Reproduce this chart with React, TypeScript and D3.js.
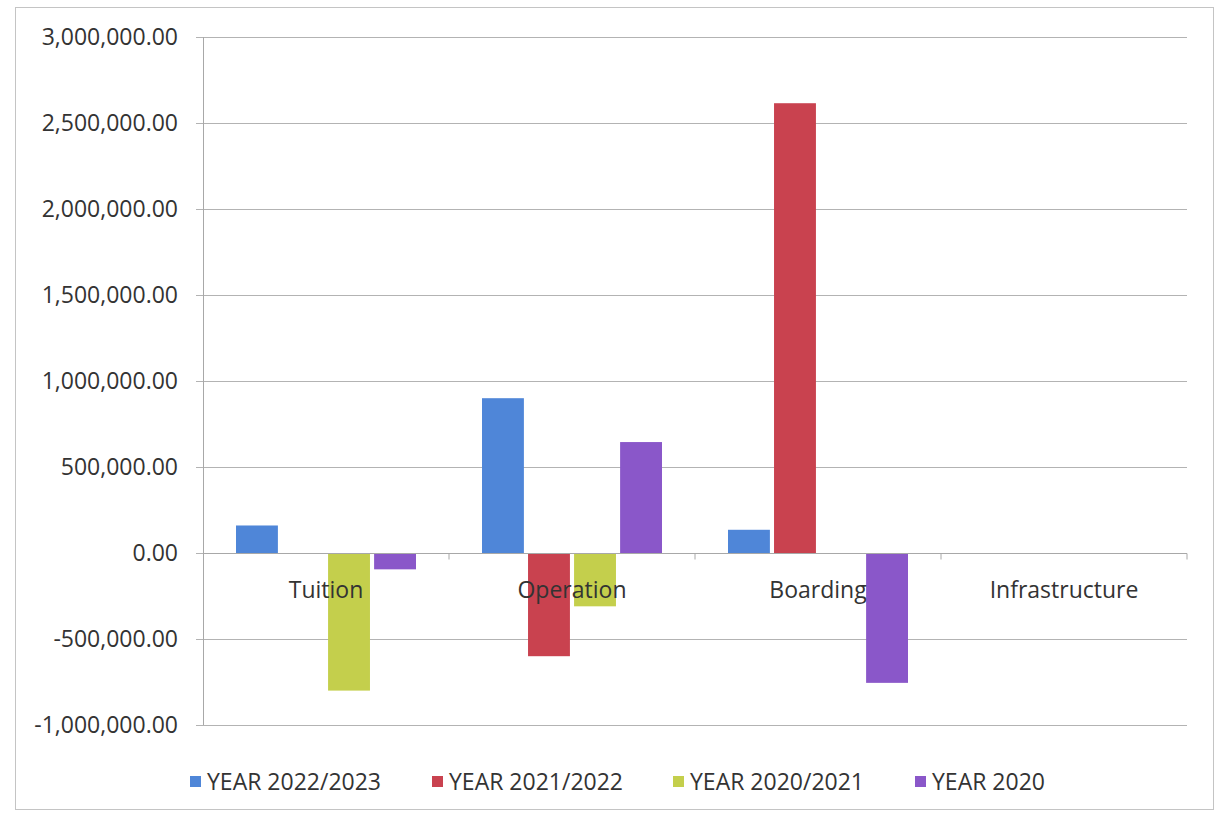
import React, { useEffect, useRef } from 'react';
import * as d3 from 'd3';

const categories = ['Tuition', 'Operation', 'Boarding', 'Infrastructure'];
const seriesNames = ['YEAR 2022/2023', 'YEAR 2021/2022', 'YEAR 2020/2021', 'YEAR 2020'];
const year2022_2023 = [160000, 900000, 135000, 0];
const year2021_2022 = [0, -600000, 2615000, 0];
const year2020_2021 = [-800000, -310000, 0, 0];
const year2020 = [-95000, 645000, -755000, 0];
const yTicks = [-1000000, -500000, 0, 500000, 1000000, 1500000, 2000000, 2500000, 3000000];

const colors = ['#4f86d8', '#c9424f', '#c4cf4c', '#8a57c9'];

const App = () => {
  const divRef = useRef<HTMLDivElement>(null);

  useEffect(() => {
    drawChart(divRef);
  }, [divRef]);

  return <div ref={divRef} style={{ position: 'absolute', left: 0, top: 0 }}></div>;
};

function drawChart(divRef: React.RefObject<HTMLDivElement>) {
  const W = 1223,
    H = 814;
  const margin = { top: 37, left: 203, right: 36, bottom: 89 };
  const width = W - margin.left - margin.right,
    height = H - margin.top - margin.bottom;
  const font = "'Open Sans', 'Noto Sans', sans-serif";
  const textColor = '#333333';
  const fontSize = '23px';

  d3.select(divRef.current).select('svg').remove();

  const root = d3
    .select(divRef.current)
    .append('svg')
    .attr('width', W)
    .attr('height', H)
    .style('display', 'block')
    .style('background', '#ffffff');

  // outer chart frame
  root
    .append('rect')
    .attr('x', 15.5)
    .attr('y', 7.5)
    .attr('width', 1198)
    .attr('height', 802)
    .attr('fill', 'none')
    .attr('stroke', '#c4c4c4');

  const svg = root.append('g').attr('transform', 'translate(' + margin.left + ',' + margin.top + ')');

  const values = [year2022_2023, year2021_2022, year2020_2021, year2020];

  const x0 = d3.scaleBand().domain(categories).range([0, width]).padding(0);
  const groupW = 180;
  const x1 = d3
    .scaleBand()
    .domain(seriesNames)
    .range([(x0.bandwidth() - groupW) / 2, (x0.bandwidth() + groupW) / 2])
    .paddingInner(0.09);
  const y = d3.scaleLinear().domain([-1000000, 3000000]).range([height, 0]);

  // gridlines
  svg
    .append('g')
    .selectAll('line')
    .data(yTicks)
    .join('line')
    .attr('x1', -7)
    .attr('x2', width)
    .attr('y1', (d) => Math.round(y(d)) + 0.5)
    .attr('y2', (d) => Math.round(y(d)) + 0.5)
    .attr('stroke', '#b3b3b3')
    .attr('stroke-width', 1);

  // y axis line
  svg
    .append('line')
    .attr('x1', 0.5)
    .attr('x2', 0.5)
    .attr('y1', 0)
    .attr('y2', height)
    .attr('stroke', '#a8a8a8');

  // y labels (plain hyphen for negatives, like Excel)
  const fmt = (d: number) => d3.format(',.2f')(d).replace('\u2212', '-');
  svg
    .append('g')
    .selectAll('text')
    .data(yTicks)
    .join('text')
    .attr('x', -25)
    .attr('y', (d) => y(d))
    .attr('dy', '0.35em')
    .attr('text-anchor', 'end')
    .style('font-family', font)
    .style('font-size', fontSize)
    .attr('fill', textColor)
    .text((d) => fmt(d));

  // bars
  const groups = svg
    .append('g')
    .selectAll('g')
    .data(categories)
    .join('g')
    .attr('transform', (d) => 'translate(' + x0(d) + ',0)');

  groups
    .selectAll('rect')
    .data((_c, i) => seriesNames.map((s, k) => ({ s, k, v: values[k][i] })))
    .join('rect')
    .filter((d) => d.v !== 0)
    .attr('x', (d) => x1(d.s) as number)
    .attr('width', x1.bandwidth())
    .attr('y', (d) => y(Math.max(0, d.v)))
    .attr('height', (d) => Math.abs(y(d.v) - y(0)))
    .attr('fill', (d) => colors[d.k]);

  // category axis at zero
  const zeroY = Math.round(y(0)) + 0.5;
  svg
    .append('line')
    .attr('x1', 0)
    .attr('x2', width)
    .attr('y1', zeroY)
    .attr('y2', zeroY)
    .attr('stroke', '#a8a8a8');
  svg
    .append('g')
    .selectAll('line')
    .data(categories)
    .join('line')
    .attr('x1', (d) => (x0(d) as number) + x0.bandwidth())
    .attr('x2', (d) => (x0(d) as number) + x0.bandwidth())
    .attr('y1', zeroY)
    .attr('y2', zeroY + 6)
    .attr('stroke', '#a8a8a8');

  svg
    .append('g')
    .selectAll('text')
    .data(categories)
    .join('text')
    .attr('x', (d) => (x0(d) as number) + x0.bandwidth() / 2)
    .attr('y', y(0) + 37)
    .attr('dy', '0.35em')
    .attr('text-anchor', 'middle')
    .style('font-family', font)
    .style('font-size', fontSize)
    .attr('fill', textColor)
    .text((d) => d);

  // legend
  const legendX = [190, 432, 673, 915];
  const legend = root
    .append('g')
    .selectAll('g')
    .data(seriesNames)
    .join('g')
    .attr('transform', (_d, i) => 'translate(' + legendX[i] + ',782)');
  legend
    .append('rect')
    .attr('x', 0)
    .attr('y', -6)
    .attr('width', 11)
    .attr('height', 11)
    .attr('fill', (_d, i) => colors[i]);
  legend
    .append('text')
    .attr('x', 17)
    .attr('y', 0)
    .attr('dy', '0.35em')
    .style('font-family', font)
    .style('font-size', fontSize)
    .attr('fill', textColor)
    .text((d) => d);
}

export default App;
